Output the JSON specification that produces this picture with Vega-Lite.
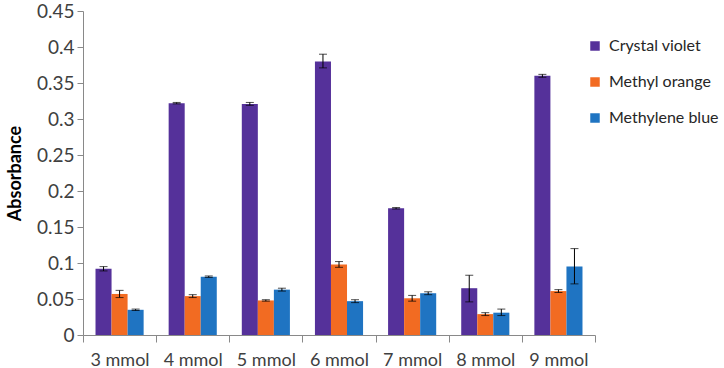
{
  "$schema": "https://vega.github.io/schema/vega-lite/v6.json",
  "width": 512,
  "height": 324,
  "autosize": {"type": "none"},
  "padding": {"left": 83, "top": 11, "right": 129, "bottom": 33},
  "background": "white",
  "config": {
    "view": {"stroke": null},
    "font": "Lato",
    "axis": {"labelFont": "Lato", "titleFont": "Lato", "labelColor": "#404040", "titleColor": "#000000", "domainColor": "#898989", "tickColor": "#898989", "grid": false},
    "axisY": {"title": "Absorbance", "titleFontSize": 18, "titleFontWeight": "bold", "titlePadding": 12, "labelFontSize": 19, "values": [0, 0.05, 0.1, 0.15, 0.2, 0.25, 0.3, 0.35, 0.4, 0.45], "labelExpr": "toString(datum.value)", "labelOverlap": false, "labelBound": false, "labelFlush": false, "tickSize": 6, "labelPadding": 3}
  },
  "data": {
    "values": [
      {"conc": "3 mmol", "dye": "Crystal violet", "value": 0.092, "lo": 0.089, "hi": 0.095},
      {"conc": "3 mmol", "dye": "Methyl orange", "value": 0.057, "lo": 0.052, "hi": 0.062},
      {"conc": "3 mmol", "dye": "Methylene blue", "value": 0.035, "lo": 0.034, "hi": 0.036},
      {"conc": "4 mmol", "dye": "Crystal violet", "value": 0.322, "lo": 0.321, "hi": 0.323},
      {"conc": "4 mmol", "dye": "Methyl orange", "value": 0.054, "lo": 0.052, "hi": 0.056},
      {"conc": "4 mmol", "dye": "Methylene blue", "value": 0.081, "lo": 0.08, "hi": 0.082},
      {"conc": "5 mmol", "dye": "Crystal violet", "value": 0.321, "lo": 0.319, "hi": 0.323},
      {"conc": "5 mmol", "dye": "Methyl orange", "value": 0.048, "lo": 0.047, "hi": 0.049},
      {"conc": "5 mmol", "dye": "Methylene blue", "value": 0.063, "lo": 0.061, "hi": 0.065},
      {"conc": "6 mmol", "dye": "Crystal violet", "value": 0.38, "lo": 0.371, "hi": 0.39},
      {"conc": "6 mmol", "dye": "Methyl orange", "value": 0.098, "lo": 0.094, "hi": 0.102},
      {"conc": "6 mmol", "dye": "Methylene blue", "value": 0.047, "lo": 0.045, "hi": 0.049},
      {"conc": "7 mmol", "dye": "Crystal violet", "value": 0.176, "lo": 0.175, "hi": 0.177},
      {"conc": "7 mmol", "dye": "Methyl orange", "value": 0.051, "lo": 0.047, "hi": 0.055},
      {"conc": "7 mmol", "dye": "Methylene blue", "value": 0.058, "lo": 0.056, "hi": 0.06},
      {"conc": "8 mmol", "dye": "Crystal violet", "value": 0.065, "lo": 0.046, "hi": 0.083},
      {"conc": "8 mmol", "dye": "Methyl orange", "value": 0.029, "lo": 0.027, "hi": 0.031},
      {"conc": "8 mmol", "dye": "Methylene blue", "value": 0.031, "lo": 0.027, "hi": 0.036},
      {"conc": "9 mmol", "dye": "Crystal violet", "value": 0.36, "lo": 0.358, "hi": 0.362},
      {"conc": "9 mmol", "dye": "Methyl orange", "value": 0.061, "lo": 0.059, "hi": 0.063},
      {"conc": "9 mmol", "dye": "Methylene blue", "value": 0.095, "lo": 0.071, "hi": 0.12}
    ]
  },
  "encoding": {
    "x": {
      "field": "conc", "type": "nominal",
      "scale": {"paddingInner": 0, "paddingOuter": 0},
      "axis": {"title": null, "labelAngle": 0, "labelFontSize": 18, "labelPadding": 9, "tickBand": "extent", "tickSize": 7, "labelColor": "#404040"}
    },
    "xOffset": {
      "field": "dye", "type": "nominal",
      "scale": {"paddingInner": 0, "paddingOuter": 0.78}
    }
  },
  "layer": [
    {
      "mark": {"type": "bar"},
      "encoding": {
        "y": {
          "field": "value", "type": "quantitative",
          "scale": {"domain": [0, 0.45], "nice": false},
          "title": "Absorbance"
        },
        "color": {
          "field": "dye", "type": "nominal",
          "scale": {"domain": ["Crystal violet", "Methyl orange", "Methylene blue"], "range": ["#55319A", "#F26B22", "#1F74C2"]},
          "legend": {"title": null, "orient": "none", "legendX": 504, "legendY": 27, "labelFontSize": 16, "labelColor": "#262626", "symbolType": "square", "symbolSize": 90, "rowPadding": 20, "symbolStrokeWidth": 0, "labelOffset": 6}
        }
      }
    },
    {
      "mark": {"type": "rule", "color": "black", "strokeWidth": 1},
      "encoding": {
        "y": {"field": "lo", "type": "quantitative", "title": "Absorbance"},
        "y2": {"field": "hi"}
      }
    },
    {
      "mark": {"type": "tick", "color": "black", "size": 8, "thickness": 1},
      "encoding": {"y": {"field": "lo", "type": "quantitative", "title": "Absorbance"}}
    },
    {
      "mark": {"type": "tick", "color": "black", "size": 8, "thickness": 1},
      "encoding": {"y": {"field": "hi", "type": "quantitative", "title": "Absorbance"}}
    }
  ]
}
